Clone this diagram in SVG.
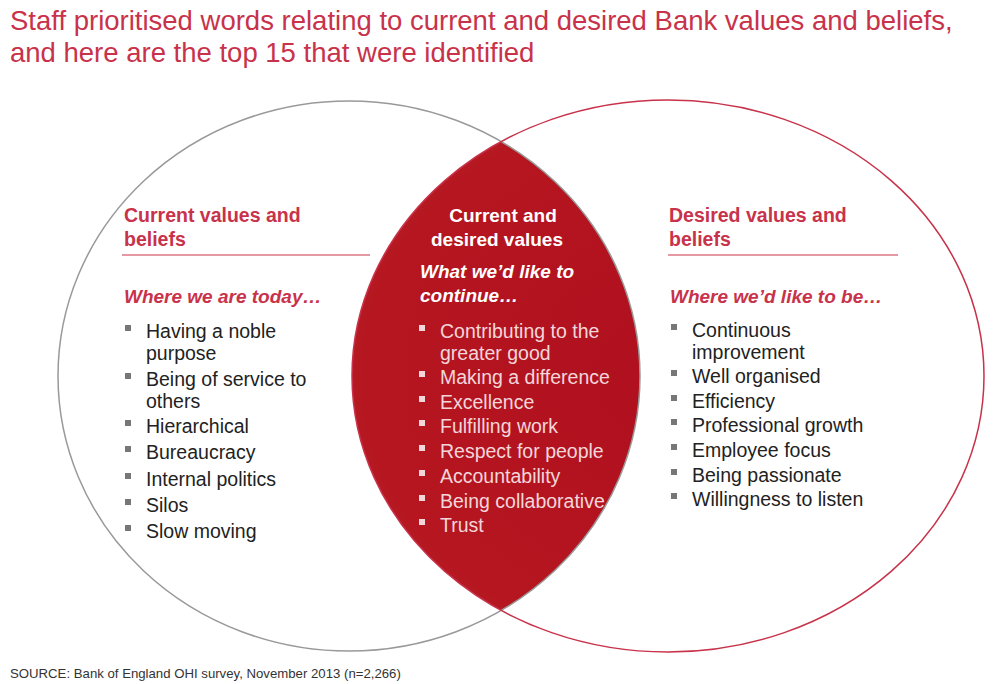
<svg xmlns="http://www.w3.org/2000/svg" width="1008" height="684" viewBox="0 0 1008 684">
<style>
text{font-family:"Liberation Sans",Arial,sans-serif}
.title{font-size:27.5px;fill:#c8324a}
.hd{font-size:19.5px;font-weight:bold;fill:#c8324a}
.hdw{font-size:19px;font-weight:bold;fill:#fff}
.it{font-size:19px;font-weight:bold;font-style:italic;fill:#c8324a}
.itw{font-size:19px;font-weight:bold;font-style:italic;fill:#fff}
.b{font-size:19.5px;fill:#222}
.bw{font-size:19.5px;fill:#f3d6da}
.sq{fill:#777}
.sqw{fill:#f3d6da}
.src{font-size:13.2px;fill:#333}
</style>
<defs>
<radialGradient id="g" cx="0.5" cy="0.5" r="0.6">
<stop offset="0" stop-color="#b0101f"/>
<stop offset="0.8" stop-color="#b5161f"/>
<stop offset="1" stop-color="#bd2a38"/>
</radialGradient>
<clipPath id="cl"><ellipse cx="349" cy="376" rx="291" ry="275"/></clipPath>
</defs>
<rect width="1008" height="684" fill="#fff"/>
<text class="title" x="10" y="30">Staff prioritised words relating to current and desired Bank values and beliefs,</text>
<text class="title" x="10" y="62">and here are the top 15 that were identified</text>
<g id="lens"><ellipse cx="668" cy="376" rx="316" ry="276" fill="url(#g)" clip-path="url(#cl)"/></g>
<g id="connectors">
<ellipse cx="349" cy="376" rx="291" ry="275" fill="none" stroke="#999" stroke-width="1.5"/>
<ellipse cx="668" cy="376" rx="316" ry="276" fill="none" stroke="#c8324a" stroke-width="1.5"/>
<line x1="122" y1="255" x2="370" y2="255" stroke="#c8324a" stroke-width="1"/>
<line x1="668" y1="255" x2="898" y2="255" stroke="#c8324a" stroke-width="1"/>
</g>
<g id="left">
<text class="hd" x="124" y="222">Current values and</text>
<text class="hd" x="124" y="246">beliefs</text>
<text class="it" x="124" y="303">Where we are today…</text>
<text class="b" x="146" y="338">Having a noble</text><text class="b" x="146" y="360">purpose</text>
<text class="b" x="146" y="386">Being of service to</text><text class="b" x="146" y="408">others</text>
<text class="b" x="146" y="433">Hierarchical</text>
<text class="b" x="146" y="459">Bureaucracy</text>
<text class="b" x="146" y="486">Internal politics</text>
<text class="b" x="146" y="512">Silos</text>
<text class="b" x="146" y="538">Slow moving</text>
<rect class="sq" x="125" y="325" width="6" height="6"/><rect class="sq" x="125" y="373" width="6" height="6"/><rect class="sq" x="125" y="420" width="6" height="6"/><rect class="sq" x="125" y="446" width="6" height="6"/><rect class="sq" x="125" y="473" width="6" height="6"/><rect class="sq" x="125" y="499" width="6" height="6"/><rect class="sq" x="125" y="525" width="6" height="6"/>
</g>
<g id="middle">
<text class="hdw" x="503" y="222" text-anchor="middle">Current and</text>
<text class="hdw" x="497" y="246" text-anchor="middle">desired values</text>
<text class="itw" x="420" y="278">What we’d like to</text>
<text class="itw" x="420" y="302">continue…</text>
<text class="bw" x="440" y="338">Contributing to the</text><text class="bw" x="440" y="360">greater good</text>
<text class="bw" x="440" y="384">Making a difference</text>
<text class="bw" x="440" y="409">Excellence</text>
<text class="bw" x="440" y="433">Fulfilling work</text>
<text class="bw" x="440" y="458">Respect for people</text>
<text class="bw" x="440" y="483">Accountability</text>
<text class="bw" x="440" y="508">Being collaborative</text>
<text class="bw" x="440" y="532">Trust</text>
<rect class="sqw" x="419" y="325" width="6" height="6"/><rect class="sqw" x="419" y="371" width="6" height="6"/><rect class="sqw" x="419" y="396" width="6" height="6"/><rect class="sqw" x="419" y="420" width="6" height="6"/><rect class="sqw" x="419" y="445" width="6" height="6"/><rect class="sqw" x="419" y="470" width="6" height="6"/><rect class="sqw" x="419" y="495" width="6" height="6"/><rect class="sqw" x="419" y="519" width="6" height="6"/>
</g>
<g id="right">
<text class="hd" x="669" y="222">Desired values and</text>
<text class="hd" x="669" y="246">beliefs</text>
<text class="it" x="670" y="303">Where we’d like to be…</text>
<text class="b" x="692" y="337">Continuous</text><text class="b" x="692" y="359">improvement</text>
<text class="b" x="692" y="383">Well organised</text>
<text class="b" x="692" y="408">Efficiency</text>
<text class="b" x="692" y="432">Professional growth</text>
<text class="b" x="692" y="457">Employee focus</text>
<text class="b" x="692" y="482">Being passionate</text>
<text class="b" x="692" y="506">Willingness to listen</text>
<rect class="sq" x="671" y="324" width="6" height="6"/><rect class="sq" x="671" y="370" width="6" height="6"/><rect class="sq" x="671" y="395" width="6" height="6"/><rect class="sq" x="671" y="419" width="6" height="6"/><rect class="sq" x="671" y="444" width="6" height="6"/><rect class="sq" x="671" y="469" width="6" height="6"/><rect class="sq" x="671" y="493" width="6" height="6"/>
</g>
<text class="src" x="10" y="678">SOURCE: Bank of England OHI survey, November 2013  (n=2,266)</text>
</svg>
